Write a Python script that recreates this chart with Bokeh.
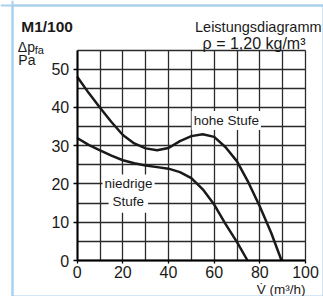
from bokeh.plotting import figure
from bokeh.models import Range1d, SingleIntervalTicker, Label, Span, BoxAnnotation
from bokeh.embed import file_html
from bokeh.resources import INLINE

# --- data ---
flow_high = [0, 5, 10, 15, 20, 25, 30, 35, 40, 45, 50, 55, 60, 65, 70, 75, 80, 85, 89.5]
dp_high = [48.0, 43.8, 39.9, 36.2, 32.8, 30.6, 29.3, 28.8, 29.4, 31.2, 32.5, 33.0, 32.3, 29.6, 25.9, 20.4, 14.1, 7.2, 0.0]

flow_low = [0, 5, 10, 15, 20, 25, 30, 35, 40, 45, 50, 55, 60, 65, 70, 74.6]
dp_low = [32.0, 30.2, 28.8, 27.4, 26.2, 25.4, 24.8, 24.4, 24.0, 23.1, 21.5, 18.6, 14.6, 9.5, 4.8, 0.0]

x_axis_bounds = (0, 100)
y_axis_bounds = (0, 55)
x_label_step = 20
y_label_step = 10
x_grid_step = 10
y_grid_step = 5

title_text = "M1/100"
header_text = "Leistungsdiagramm"
density_text = "\u03c1 = 1,20 kg/m\u00b3"
y_name = "\u0394p"
y_sub = "fa"
y_unit = "Pa"
x_name = "V\u0307 (m\u00b3/h)"
high_label = "hohe Stufe"
low_label = ["niedrige", "Stufe"]

# --- layout (pixels) ---
W, H = 323, 296
FRAME_L, FRAME_R = 76.7, 305.0   # pixel positions of x = 0 and x = 100
FRAME_B, FRAME_T = 260.0, 49.5   # pixel positions of y = 0 and y = 55
sx = (FRAME_R - FRAME_L) / (x_axis_bounds[1] - x_axis_bounds[0])
sy = (FRAME_B - FRAME_T) / (y_axis_bounds[1] - y_axis_bounds[0])
x_rng = (-FRAME_L / sx, (W - FRAME_L) / sx)
y_rng = ((FRAME_B - H) / sy, FRAME_B / sy)

FONT = "Liberation Sans"
INK = "#1a1a1a"
GRID = "#2a2a2a"
FRAME_BLUE = "#a9d0ec"

p = figure(width=W, height=H, output_backend="svg", toolbar_location=None,
           x_range=Range1d(*x_rng), y_range=Range1d(*y_rng),
           min_border_left=0, min_border_right=0, min_border_top=0, min_border_bottom=0)
p.background_fill_color = "white"
p.border_fill_color = "white"
p.outline_line_color = None

# light blue page frame (left and top edges)
frame_left = (12 - FRAME_L) / sx
frame_top = (FRAME_B - 5) / sy
p.add_layout(BoxAnnotation(left=frame_left, top=frame_top,
                           right=x_rng[1] - 0.01, bottom=y_rng[0] + 0.01,
                           fill_color=None, fill_alpha=0,
                           line_color=FRAME_BLUE, line_alpha=1.0, line_width=2))
p.add_layout(Span(location=frame_left, dimension="height",
                  line_color=FRAME_BLUE, line_alpha=1.0, line_width=2))
p.add_layout(Span(location=frame_top, dimension="width",
                  line_color=FRAME_BLUE, line_alpha=1.0, line_width=2))

p.xgrid.ticker = SingleIntervalTicker(interval=x_grid_step)
p.ygrid.ticker = SingleIntervalTicker(interval=y_grid_step)
p.xgrid.bounds = x_axis_bounds
p.xgrid.cross_bounds = y_axis_bounds
p.ygrid.bounds = y_axis_bounds
p.ygrid.cross_bounds = x_axis_bounds
for g in (p.xgrid, p.ygrid):
    g.grid_line_color = GRID
    g.grid_line_width = 1.3

p.xaxis.ticker = SingleIntervalTicker(interval=x_label_step, num_minor_ticks=0)
p.yaxis.ticker = SingleIntervalTicker(interval=y_label_step, num_minor_ticks=0)
p.xaxis.fixed_location = 0
p.yaxis.fixed_location = 0
p.xaxis.bounds = x_axis_bounds
p.yaxis.bounds = y_axis_bounds
for ax in (p.xaxis, p.yaxis):
    ax.axis_line_color = "black"
    ax.axis_line_width = 2
    ax.major_tick_line_color = "black"
    ax.major_tick_line_width = 1.3
    ax.major_tick_in = 0
    ax.minor_tick_line_color = None
    ax.major_label_text_font = FONT
    ax.major_label_text_font_size = "16px"
    ax.major_label_text_color = INK
p.yaxis.major_tick_out = 4
p.yaxis.major_label_standoff = 4
p.xaxis.major_tick_out = 3
p.xaxis.major_label_standoff = 2

p.line(flow_high, dp_high, line_color=INK, line_width=2.5)
p.line(flow_low, dp_low, line_color=INK, line_width=2.5)

def lab(x, y, text, size, align="left", baseline="alphabetic", style="normal", font=FONT, **kw):
    p.add_layout(Label(x=x, y=y, text=text, text_font=font, text_font_size=size,
                       text_align=align, text_baseline=baseline, text_font_style=style,
                       text_color=INK, **kw))

lab(-24.5, 61.1, title_text, "15.5px", style="bold")
lab(51.6, 61.1, header_text, "14.5px")
lab(100, 56.6, density_text, "16px", align="right")
lab(-26.0, 55.9, y_name, "14px")
lab(-18.6, 55.1, y_sub, "11px")
lab(-25.8, 52.3, y_unit, "14px")
lab(100, -7.5, x_name, "13.5px", align="right")

lab(65.3, 36.6, high_label, "13.5px", align="center", baseline="middle",
    background_fill_color="white", padding=2)
lab(22.4, 15.5, low_label[1], "13.5px", align="center", baseline="middle",
    background_fill_color="white", padding=4)
lab(22.5, 20.0, low_label[0], "13.5px", align="center", baseline="middle",
    background_fill_color="white", padding=2)

open("out.html", "w").write(file_html(p, INLINE))
